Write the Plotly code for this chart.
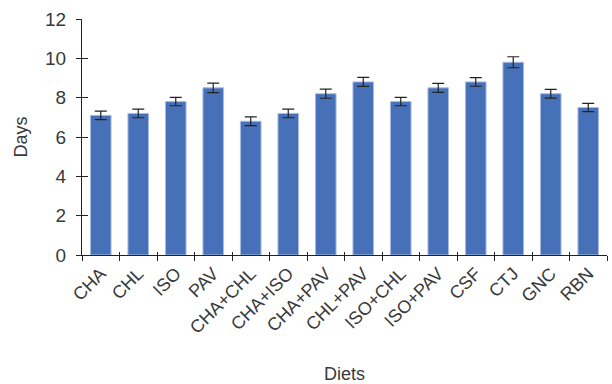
import plotly.graph_objects as go

# Development time (days) per diet, mean with standard error
diets = ["CHA", "CHL", "ISO", "PAV", "CHA+CHL", "CHA+ISO", "CHA+PAV",
         "CHL+PAV", "ISO+CHL", "ISO+PAV", "CSF", "CTJ", "GNC", "RBN"]
days = [7.1, 7.2, 7.8, 8.5, 6.8, 7.2, 8.2, 8.8, 7.8, 8.5, 8.8, 9.8, 8.2, 7.5]
errors = [0.22, 0.22, 0.21, 0.24, 0.22, 0.22, 0.23, 0.23, 0.21, 0.23, 0.22, 0.28, 0.22, 0.21]
y_ticks = [0, 2, 4, 6, 8, 10, 12]

FONT = "Liberation Sans"
TEXT = "#3a3a3a"
AXIS = "#222222"

fig = go.Figure()

fig.add_trace(go.Bar(
    x=diets, y=days,
    marker=dict(color="#4670b8", line=dict(color="#a9bce0", width=1)),
    width=0.55,
    error_y=dict(type="data", array=errors, visible=True,
                 color="#222222", thickness=1.2, width=6),
    showlegend=False,
    hoverinfo="x+y",
))

# invisible copy on overlay axes so the ticks can also point inward
fig.add_trace(go.Scatter(
    x=diets, y=days, xaxis="x2", yaxis="y2", mode="markers",
    marker=dict(opacity=0), showlegend=False, hoverinfo="skip",
))

axis_common = dict(showgrid=False, zeroline=False, showline=True,
                   linecolor=AXIS, linewidth=1, tickcolor=AXIS, tickwidth=1)

fig.update_layout(
    width=612, height=384,
    margin=dict(l=82, r=5, t=19, b=129),
    paper_bgcolor="white", plot_bgcolor="white",
    font=dict(family=FONT, color=TEXT, size=18),
    bargap=0.45,
    xaxis=dict(
        **axis_common,
        type="category",
        ticks="outside", ticklen=5, tickson="boundaries",
        tickangle=-45,
        tickfont=dict(family=FONT, size=18, color=TEXT),
        range=[-0.5, 13.5],
        title=dict(text="Diets", font=dict(family=FONT, size=18, color=TEXT), standoff=30),
    ),
    yaxis=dict(
        **axis_common,
        range=[0, 12],
        tickvals=y_ticks,
        ticks="outside", ticklen=5,
        ticklabelstandoff=6,
        tickfont=dict(family=FONT, size=19, color=TEXT),
        title=dict(text="Days", font=dict(family=FONT, size=18, color=TEXT), standoff=12),
    ),
    xaxis2=dict(
        **axis_common,
        type="category", overlaying="x", matches="x",
        ticks="inside", ticklen=3, tickson="boundaries",
        showticklabels=False,
    ),
    yaxis2=dict(
        **axis_common,
        overlaying="y", matches="y",
        tickvals=y_ticks,
        ticks="inside", ticklen=6,
        showticklabels=False,
    ),
)

fig.write_html("out.html")
